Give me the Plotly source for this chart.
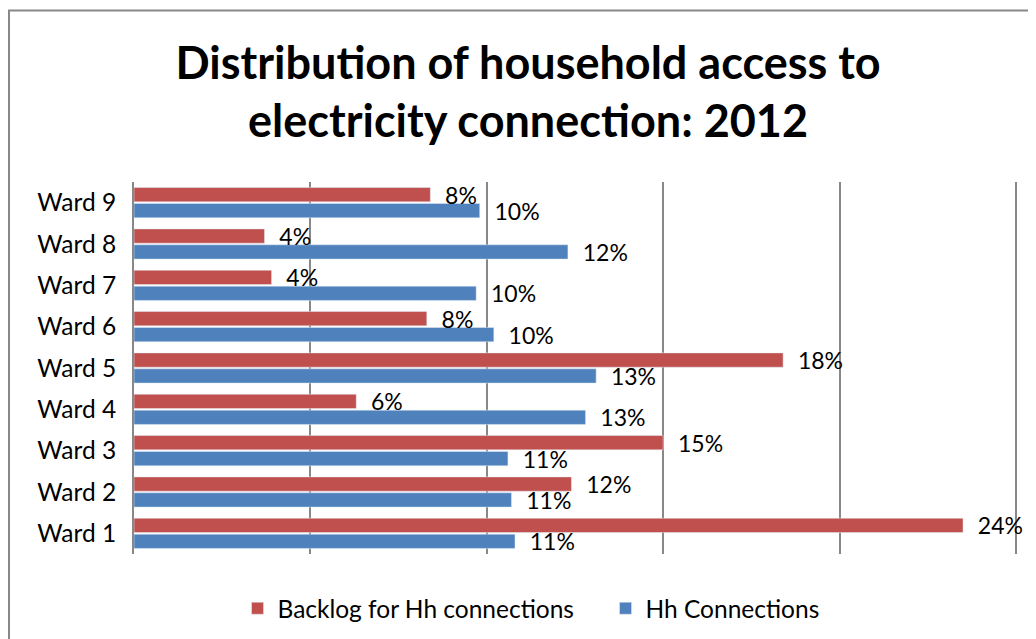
import plotly.graph_objects as go

wards = ["Ward 1", "Ward 2", "Ward 3", "Ward 4", "Ward 5", "Ward 6", "Ward 7", "Ward 8", "Ward 9"]
backlog = [23.5, 12.4, 15.0, 6.3, 18.4, 8.3, 3.9, 3.7, 8.4]
backlog_labels = ["24%", "12%", "15%", "6%", "18%", "8%", "4%", "4%", "8%"]
hh = [10.8, 10.7, 10.6, 12.8, 13.1, 10.2, 9.7, 12.3, 9.8]
hh_labels = ["11%", "11%", "11%", "13%", "13%", "10%", "10%", "12%", "10%"]

FONT = "Lato"
RED = "#C0504D"
BLUE = "#4F81BD"
GRAY = "#888888"

fig = go.Figure()
fig.add_trace(go.Bar(
    y=wards, x=hh, orientation="h", name="Hh Connections",
    marker=dict(color=BLUE),
    text=hh_labels, texttemplate="  %{text}", textposition="outside",
    constraintext="none", cliponaxis=False,
    textfont=dict(family=FONT, size=23, color="black"),
))
fig.add_trace(go.Bar(
    y=wards, x=backlog, orientation="h", name="Backlog for Hh connections",
    marker=dict(color=RED),
    text=backlog_labels, texttemplate="  %{text}", textposition="outside",
    constraintext="none", cliponaxis=False,
    textfont=dict(family=FONT, size=23, color="black"),
))

fig.update_layout(
    width=1036, height=639,
    paper_bgcolor="white", plot_bgcolor="white",
    margin=dict(l=126, r=21, t=174, b=93),
    barmode="group", bargap=0.23, bargroupgap=0.1,
    font=dict(family=FONT, color="black"),
    title=dict(
        text="<b>Distribution of household access to<br>electricity connection: 2012</b>",
        x=0.502, xanchor="center", y=0.889, yanchor="middle",
        font=dict(family=FONT, size=45, color="black"),
    ),
    xaxis=dict(
        range=[0, 25.2], dtick=5, showticklabels=False,
        showgrid=True, gridcolor=GRAY, gridwidth=1.5,
        zeroline=False, showline=False,
    ),
    yaxis=dict(
        showline=True, linecolor=GRAY, linewidth=2,
        showgrid=False, ticks="", ticklabelstandoff=11,
        tickfont=dict(family=FONT, size=24.5, color="black"),
    ),
    legend=dict(
        orientation="h", x=0.5304, xanchor="center", y=-0.146, yanchor="middle",
        traceorder="reversed", font=dict(family=FONT, size=24.5, color="black"),
        itemwidth=30, entrywidth=323,
    ),
    showlegend=True,
)

fig.add_shape(
    type="rect", xref="paper", yref="paper",
    x0=-0.1406, y0=-0.6, x1=1.3, y1=1.461,
    line=dict(color=GRAY, width=2), fillcolor="rgba(0,0,0,0)",
    layer="below",
)

fig.write_html("out.html")
